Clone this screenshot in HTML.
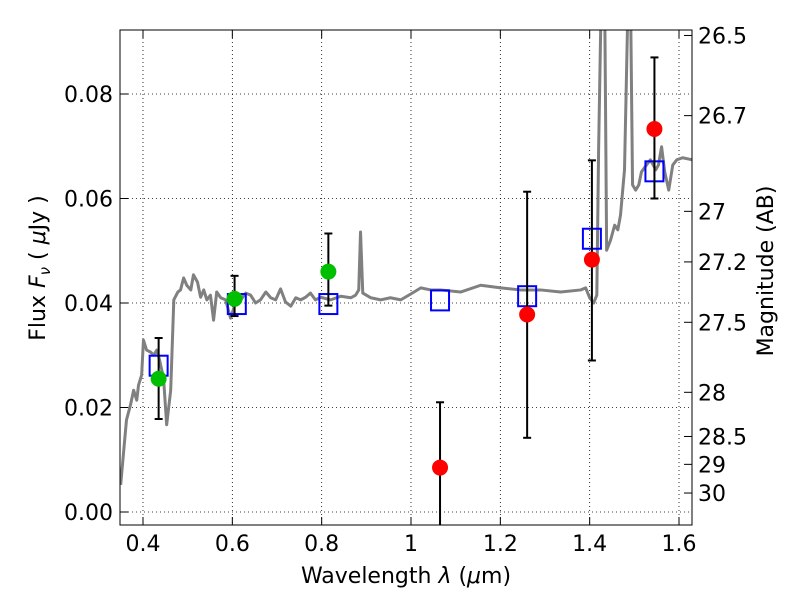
<!DOCTYPE html>
<html><head><meta charset="utf-8"><style>
body{margin:0;background:#fff}
svg text{font-family:"DejaVu Sans","Liberation Sans",sans-serif;fill:#000}
</style></head><body>
<svg id="c" width="800" height="600" xmlns="http://www.w3.org/2000/svg">
<rect width="800" height="600" fill="#fff"/>
<defs><clipPath id="clip"><rect x="120" y="30" width="572" height="495"/></clipPath></defs>
<g id="grid"></g>
<g id="spec" clip-path="url(#clip)"></g>
<g id="marks" clip-path="url(#clip)"></g>
<rect x="120" y="30" width="572" height="495" fill="none" stroke="#000" stroke-width="1"/>
<g id="axes"></g>
<text x="406" y="583" font-size="22" text-anchor="middle">Wavelength  <tspan font-style="italic">λ</tspan> (<tspan font-style="italic">μ</tspan>m)</text>
<text transform="translate(45,268) rotate(-90)" font-size="22" text-anchor="middle">Flux  <tspan font-style="italic">F</tspan><tspan font-style="italic" font-size="15" dy="5">ν</tspan><tspan dy="-5">  (  </tspan><tspan font-style="italic">μ</tspan>Jy )</text>
<text transform="translate(773,271) rotate(-90)" font-size="22" text-anchor="middle">Magnitude (AB)</text>
</svg>
<script>
const specWl=[0.350,0.363,0.372,0.379,0.386,0.390,0.397,0.401,0.408,0.417,0.424,0.431,0.437,0.446,0.453,0.462,0.469,0.478,0.484,0.491,0.498,0.507,0.513,0.522,0.529,0.536,0.543,0.551,0.558,0.565,0.574,0.585,0.596,0.607,0.619,0.630,0.641,0.652,0.663,0.675,0.686,0.697,0.708,0.719,0.731,0.742,0.753,0.764,0.775,0.786,0.798,0.820,0.843,0.865,0.876,0.883,0.887,0.892,0.910,0.932,0.954,0.977,0.999,1.022,1.044,1.066,1.111,1.156,1.201,1.245,1.290,1.335,1.380,1.391,1.400,1.409,1.416,1.420,1.425,1.434,1.438,1.447,1.456,1.463,1.469,1.478,1.485,1.492,1.496,1.503,1.510,1.516,1.527,1.536,1.548,1.554,1.561,1.568,1.577,1.586,1.595,1.608,1.630];
const specFlux=[0.0052,0.0176,0.0205,0.0233,0.0214,0.0243,0.0262,0.0329,0.0310,0.0306,0.0300,0.0310,0.0291,0.0256,0.0167,0.0233,0.0406,0.0421,0.0425,0.0448,0.0434,0.0425,0.0454,0.0440,0.0411,0.0425,0.0406,0.0415,0.0367,0.0421,0.0410,0.0406,0.0371,0.0400,0.0406,0.0419,0.0415,0.0400,0.0406,0.0421,0.0410,0.0406,0.0427,0.0402,0.0394,0.0410,0.0406,0.0411,0.0419,0.0406,0.0411,0.0406,0.0413,0.0410,0.0415,0.0425,0.0536,0.0419,0.0410,0.0406,0.0410,0.0406,0.0417,0.0429,0.0425,0.0425,0.0421,0.0434,0.0429,0.0425,0.0425,0.0421,0.0425,0.0429,0.0410,0.0400,0.0415,0.0693,0.0942,0.0942,0.0501,0.0521,0.0549,0.0540,0.0568,0.0655,0.0942,0.0942,0.0626,0.0616,0.0626,0.0651,0.0664,0.0674,0.0655,0.0664,0.0699,0.0651,0.0616,0.0664,0.0674,0.0678,0.0674];
const greenWl=[0.435,0.605,0.815];
const greenFlux=[0.0255,0.0408,0.0460];
const greenLo=[0.0178,0.0375,0.0395];
const greenHi=[0.0333,0.0452,0.0533];
const redWl=[1.065,1.26,1.405,1.545];
const redFlux=[0.0085,0.0378,0.0483,0.0733];
const redLo=[-0.01,0.0142,0.029,0.060];
const redHi=[0.021,0.0613,0.0673,0.087];
const modelWl=[0.435,0.61,0.815,1.065,1.26,1.405,1.545];
const modelFlux=[0.028,0.0398,0.0398,0.0405,0.0413,0.0523,0.0652];
const xTicks=[0.4,0.6,0.8,1.0,1.2,1.4,1.6];
const xTickLabels=["0.4","0.6","0.8","1","1.2","1.4","1.6"];
const yTicks=[0,0.02,0.04,0.06,0.08];
const yTickLabels=["0.00","0.02","0.04","0.06","0.08"];
const magTicks=[26.5,26.7,27,27.2,27.5,28,28.5,29,30];
const magTickLabels=["26.5","26.7","27","27.2","27.5","28","28.5","29","30"];

const X=v=>143+(v-0.4)*446.67;
const Y=v=>512-v*5225;
const NS="http://www.w3.org/2000/svg";
function mk(tag,attrs,parent){const e=document.createElementNS(NS,tag);for(const k in attrs)e.setAttribute(k,attrs[k]);parent.appendChild(e);return e;}
const grid=document.getElementById('grid'),axes=document.getElementById('axes'),spec=document.getElementById('spec'),marks=document.getElementById('marks');
xTicks.forEach((t,i)=>{
  const g=mk('line',{x1:X(t),x2:X(t),y1:30,y2:525,stroke:'#000','stroke-width':0.8,'stroke-dasharray':'1,3'},grid);
  
  
  mk('line',{x1:X(t),x2:X(t),y1:525,y2:517,stroke:'#000'},axes);
  mk('line',{x1:X(t),x2:X(t),y1:30,y2:38,stroke:'#000'},axes);
  const tx=mk('text',{x:X(t),y:551,'font-size':22,'text-anchor':'middle'},axes);
  tx.textContent=xTickLabels[i];
  
  
});
yTicks.forEach((t,i)=>{
  const g=mk('line',{x1:120,x2:692,y1:Y(t),y2:Y(t),stroke:'#000','stroke-width':0.8,'stroke-dasharray':'1,3'},grid);
  
  
  mk('line',{x1:120,x2:128,y1:Y(t),y2:Y(t),stroke:'#000'},axes);
  const tx=mk('text',{x:113,y:Y(t)+8,'font-size':22,'text-anchor':'end'},axes);
  tx.textContent=yTickLabels[i];
  
  
});
magTicks.forEach((m,i)=>{
  const f=Math.pow(10,(23.9-m)/2.5);
  mk('line',{x1:684,x2:692,y1:Y(f),y2:Y(f),stroke:'#000'},axes);
  const tx=mk('text',{x:698,y:Y(f)+8,'font-size':22},axes);
  tx.textContent=magTickLabels[i];
  
  
});
const pl=mk('polyline',{points:specWl.map((w,i)=>X(w)+','+Y(specFlux[i])).join(' '),fill:'none',stroke:'#808080','stroke-width':3,'stroke-linejoin':'round'},spec);


function err(w,lo,hi){
  mk('line',{x1:X(w),x2:X(w),y1:Y(lo),y2:Y(hi),stroke:'#000','stroke-width':2},marks);
  mk('line',{x1:X(w)-4,x2:X(w)+4,y1:Y(lo),y2:Y(lo),stroke:'#000','stroke-width':2},marks);
  mk('line',{x1:X(w)-4,x2:X(w)+4,y1:Y(hi),y2:Y(hi),stroke:'#000','stroke-width':2},marks);
}
modelWl.forEach((w,i)=>{
  const r=mk('rect',{x:X(w)-9,y:Y(modelFlux[i])-10,width:18,height:20,fill:'none',stroke:'#0000ff','stroke-width':2},marks);
  
  
});
greenWl.forEach((w,i)=>{
  err(w,greenLo[i],greenHi[i]);
  const c=mk('circle',{cx:X(w),cy:Y(greenFlux[i]),r:8,fill:'#00bf00'},marks);
  
  
});
redWl.forEach((w,i)=>{
  err(w,redLo[i],redHi[i]);
  const c=mk('circle',{cx:X(w),cy:Y(redFlux[i]),r:8,fill:'#ff0000'},marks);
  
  
});
</script>
</body></html>
